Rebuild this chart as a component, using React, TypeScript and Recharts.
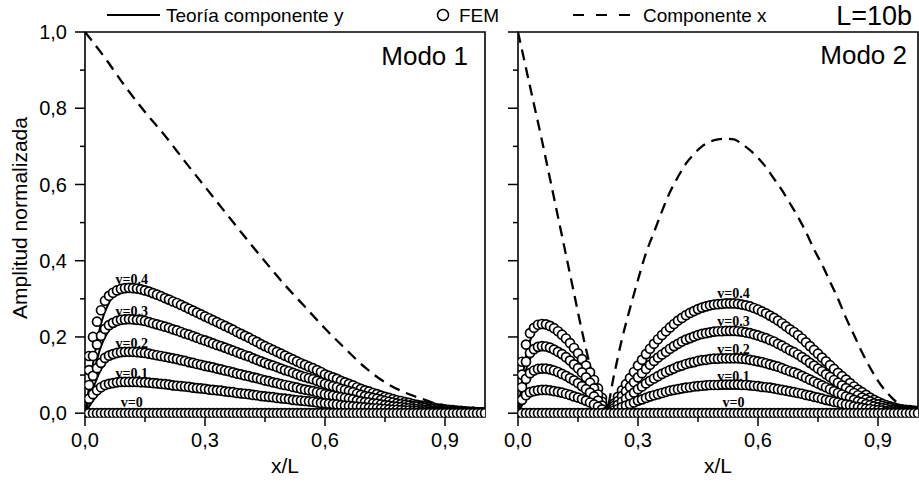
import React from "react";
import { ComposedChart, Line, Scatter, XAxis, YAxis, ReferenceArea, ReferenceDot } from "recharts";

// x/L sampling of the theory curves
const xGrid = [0, 0.02, 0.04, 0.06, 0.08, 0.1, 0.12, 0.14, 0.16, 0.18, 0.2, 0.22, 0.24, 0.26, 0.28, 0.3, 0.32, 0.34, 0.36, 0.38, 0.4, 0.42, 0.44, 0.46, 0.48, 0.5, 0.52, 0.54, 0.56, 0.58, 0.6, 0.62, 0.64, 0.66, 0.68, 0.7, 0.72, 0.74, 0.76, 0.78, 0.8, 0.82, 0.84, 0.86, 0.88, 0.9, 0.92, 0.94, 0.96, 0.98, 1];

// x/L of the FEM nodes
const xFem = [0, 0.01, 0.02, 0.03, 0.04, 0.05, 0.06, 0.07, 0.08, 0.09, 0.1, 0.11, 0.12, 0.13, 0.14, 0.15, 0.16, 0.17, 0.18, 0.19, 0.2, 0.21, 0.22, 0.23, 0.24, 0.25, 0.26, 0.27, 0.28, 0.29, 0.3, 0.31, 0.32, 0.33, 0.34, 0.35, 0.36, 0.37, 0.38, 0.39, 0.4, 0.41, 0.42, 0.43, 0.44, 0.45, 0.46, 0.47, 0.48, 0.49, 0.5, 0.51, 0.52, 0.53, 0.54, 0.55, 0.56, 0.57, 0.58, 0.59, 0.6, 0.61, 0.62, 0.63, 0.64, 0.65, 0.66, 0.67, 0.68, 0.69, 0.7, 0.71, 0.72, 0.73, 0.74, 0.75, 0.76, 0.77, 0.78, 0.79, 0.8, 0.81, 0.82, 0.83, 0.84, 0.85, 0.86, 0.87, 0.88, 0.89, 0.9, 0.91, 0.92, 0.93, 0.94, 0.95, 0.96, 0.97, 0.98, 0.99, 1];

// Modo 1 - teoría componente y
const m1Nu04 = [0, 0.13, 0.235, 0.29, 0.317, 0.327, 0.328, 0.325, 0.319, 0.311, 0.302, 0.293, 0.284, 0.274, 0.264, 0.254, 0.244, 0.234, 0.224, 0.213, 0.203, 0.192, 0.181, 0.171, 0.161, 0.151, 0.141, 0.131, 0.122, 0.113, 0.102, 0.094, 0.085, 0.077, 0.068, 0.06, 0.053, 0.046, 0.04, 0.034, 0.029, 0.024, 0.02, 0.016, 0.013, 0.01, 0.008, 0.006, 0.004, 0.003, 0.002];
const m1Nu03 = [0, 0.098, 0.176, 0.218, 0.238, 0.245, 0.246, 0.244, 0.239, 0.233, 0.227, 0.22, 0.213, 0.206, 0.198, 0.191, 0.183, 0.176, 0.168, 0.16, 0.152, 0.144, 0.136, 0.128, 0.121, 0.113, 0.106, 0.098, 0.092, 0.085, 0.077, 0.071, 0.064, 0.058, 0.051, 0.045, 0.04, 0.035, 0.03, 0.026, 0.022, 0.018, 0.015, 0.012, 0.01, 0.008, 0.006, 0.005, 0.003, 0.002, 0.002];
const m1Nu02 = [0, 0.064, 0.115, 0.142, 0.155, 0.16, 0.161, 0.159, 0.156, 0.152, 0.148, 0.144, 0.139, 0.134, 0.129, 0.124, 0.12, 0.115, 0.11, 0.104, 0.099, 0.094, 0.089, 0.084, 0.079, 0.074, 0.069, 0.064, 0.06, 0.055, 0.05, 0.046, 0.042, 0.038, 0.033, 0.029, 0.026, 0.023, 0.02, 0.017, 0.014, 0.012, 0.01, 0.008, 0.006, 0.005, 0.004, 0.003, 0.002, 0.001, 0.001];
const m1Nu01 = [0, 0.033, 0.059, 0.073, 0.079, 0.082, 0.082, 0.081, 0.08, 0.078, 0.076, 0.073, 0.071, 0.069, 0.066, 0.064, 0.061, 0.059, 0.056, 0.053, 0.051, 0.048, 0.045, 0.043, 0.04, 0.038, 0.035, 0.033, 0.031, 0.028, 0.026, 0.024, 0.021, 0.019, 0.017, 0.015, 0.013, 0.012, 0.01, 0.009, 0.007, 0.006, 0.005, 0.004, 0.003, 0.003, 0.002, 0.002, 0.001, 0.001, 0.001];
const nu0 = [0, 0, 0, 0, 0, 0, 0, 0, 0, 0, 0, 0, 0, 0, 0, 0, 0, 0, 0, 0, 0, 0, 0, 0, 0, 0, 0, 0, 0, 0, 0, 0, 0, 0, 0, 0, 0, 0, 0, 0, 0, 0, 0, 0, 0, 0, 0, 0, 0, 0, 0];

// Modo 1 - FEM
const m1Fem04 = [0, 0.15, 0.2, 0.24, 0.27, 0.295, 0.308, 0.316, 0.322, 0.326, 0.328, 0.329, 0.328, 0.327, 0.325, 0.322, 0.319, 0.315, 0.311, 0.307, 0.302, 0.298, 0.293, 0.289, 0.284, 0.279, 0.274, 0.269, 0.264, 0.259, 0.254, 0.249, 0.244, 0.239, 0.234, 0.229, 0.224, 0.219, 0.213, 0.208, 0.203, 0.198, 0.192, 0.187, 0.181, 0.176, 0.171, 0.166, 0.161, 0.156, 0.151, 0.146, 0.141, 0.136, 0.131, 0.127, 0.122, 0.118, 0.113, 0.108, 0.102, 0.098, 0.094, 0.09, 0.085, 0.081, 0.077, 0.073, 0.068, 0.064, 0.06, 0.057, 0.053, 0.05, 0.046, 0.043, 0.04, 0.037, 0.034, 0.032, 0.029, 0.027, 0.024, 0.022, 0.02, 0.018, 0.016, 0.015, 0.013, 0.012, 0.01, 0.009, 0.008, 0.007, 0.006, 0.005, 0.004, 0.004, 0.003, 0.002, 0.002];
const m1Fem03 = [0, 0.113, 0.15, 0.18, 0.203, 0.221, 0.231, 0.237, 0.242, 0.245, 0.246, 0.247, 0.246, 0.245, 0.244, 0.242, 0.239, 0.236, 0.233, 0.23, 0.227, 0.224, 0.22, 0.217, 0.213, 0.209, 0.206, 0.202, 0.198, 0.194, 0.191, 0.187, 0.183, 0.179, 0.176, 0.172, 0.168, 0.164, 0.16, 0.156, 0.152, 0.149, 0.144, 0.14, 0.136, 0.132, 0.128, 0.125, 0.121, 0.117, 0.113, 0.11, 0.106, 0.102, 0.098, 0.095, 0.092, 0.089, 0.085, 0.081, 0.077, 0.074, 0.071, 0.068, 0.064, 0.061, 0.058, 0.055, 0.051, 0.048, 0.045, 0.043, 0.04, 0.038, 0.035, 0.032, 0.03, 0.028, 0.026, 0.024, 0.022, 0.02, 0.018, 0.017, 0.015, 0.014, 0.012, 0.011, 0.01, 0.009, 0.008, 0.007, 0.006, 0.005, 0.005, 0.004, 0.003, 0.003, 0.002, 0.002, 0.002];
const m1Fem02 = [0, 0.074, 0.098, 0.118, 0.132, 0.145, 0.151, 0.155, 0.158, 0.16, 0.161, 0.161, 0.161, 0.16, 0.159, 0.158, 0.156, 0.154, 0.152, 0.15, 0.148, 0.146, 0.144, 0.142, 0.139, 0.137, 0.134, 0.132, 0.129, 0.127, 0.124, 0.122, 0.12, 0.117, 0.115, 0.112, 0.11, 0.107, 0.104, 0.102, 0.099, 0.097, 0.094, 0.092, 0.089, 0.086, 0.084, 0.081, 0.079, 0.076, 0.074, 0.072, 0.069, 0.067, 0.064, 0.062, 0.06, 0.058, 0.055, 0.053, 0.05, 0.048, 0.046, 0.044, 0.042, 0.04, 0.038, 0.036, 0.033, 0.031, 0.029, 0.028, 0.026, 0.025, 0.023, 0.021, 0.02, 0.018, 0.017, 0.016, 0.014, 0.013, 0.012, 0.011, 0.01, 0.009, 0.008, 0.007, 0.006, 0.006, 0.005, 0.004, 0.004, 0.003, 0.003, 0.002, 0.002, 0.002, 0.001, 0.001, 0.001];
const m1Fem01 = [0, 0.038, 0.05, 0.06, 0.068, 0.074, 0.077, 0.079, 0.081, 0.082, 0.082, 0.082, 0.082, 0.082, 0.081, 0.081, 0.08, 0.079, 0.078, 0.077, 0.076, 0.075, 0.073, 0.072, 0.071, 0.07, 0.069, 0.067, 0.066, 0.065, 0.064, 0.062, 0.061, 0.06, 0.059, 0.057, 0.056, 0.055, 0.053, 0.052, 0.051, 0.05, 0.048, 0.047, 0.045, 0.044, 0.043, 0.042, 0.04, 0.039, 0.038, 0.037, 0.035, 0.034, 0.033, 0.032, 0.031, 0.03, 0.028, 0.027, 0.026, 0.025, 0.024, 0.023, 0.021, 0.02, 0.019, 0.018, 0.017, 0.016, 0.015, 0.014, 0.013, 0.013, 0.012, 0.011, 0.01, 0.009, 0.009, 0.008, 0.007, 0.007, 0.006, 0.006, 0.005, 0.005, 0.004, 0.004, 0.003, 0.003, 0.003, 0.002, 0.002, 0.002, 0.002, 0.001, 0.001, 0.001, 0.001, 0.001, 0.001];
const femNu0 = [0, 0, 0, 0, 0, 0, 0, 0, 0, 0, 0, 0, 0, 0, 0, 0, 0, 0, 0, 0, 0, 0, 0, 0, 0, 0, 0, 0, 0, 0, 0, 0, 0, 0, 0, 0, 0, 0, 0, 0, 0, 0, 0, 0, 0, 0, 0, 0, 0, 0, 0, 0, 0, 0, 0, 0, 0, 0, 0, 0, 0, 0, 0, 0, 0, 0, 0, 0, 0, 0, 0, 0, 0, 0, 0, 0, 0, 0, 0, 0, 0, 0, 0, 0, 0, 0, 0, 0, 0, 0, 0, 0, 0, 0, 0, 0, 0, 0, 0, 0, 0];

// Modo 1 - componente x
const m1DashX = [0, 0.05, 0.1, 0.15, 0.2, 0.25, 0.3, 0.35, 0.4, 0.45, 0.5, 0.55, 0.6, 0.65, 0.7, 0.75, 0.8, 0.85, 0.9, 0.95, 1];
const m1Dash = [1.0, 0.932, 0.858, 0.79, 0.728, 0.66, 0.594, 0.528, 0.462, 0.398, 0.336, 0.279, 0.222, 0.17, 0.12, 0.081, 0.054, 0.035, 0.016, 0.005, 0];

// Modo 2 - teoría componente y
const m2Nu04 = [0, 0.15, 0.212, 0.228, 0.225, 0.21, 0.19, 0.165, 0.135, 0.098, 0.055, 0.005, 0.025, 0.06, 0.092, 0.125, 0.155, 0.182, 0.205, 0.225, 0.243, 0.257, 0.268, 0.277, 0.283, 0.286, 0.288, 0.288, 0.285, 0.28, 0.272, 0.262, 0.25, 0.236, 0.22, 0.205, 0.186, 0.166, 0.146, 0.126, 0.106, 0.088, 0.07, 0.055, 0.041, 0.03, 0.021, 0.015, 0.01, 0.008, 0.006];
const m2Nu03 = [0, 0.113, 0.159, 0.171, 0.169, 0.158, 0.143, 0.124, 0.101, 0.074, 0.041, 0.004, 0.019, 0.045, 0.069, 0.094, 0.116, 0.137, 0.154, 0.169, 0.182, 0.193, 0.201, 0.208, 0.212, 0.215, 0.216, 0.216, 0.214, 0.21, 0.204, 0.197, 0.188, 0.177, 0.165, 0.154, 0.14, 0.125, 0.11, 0.095, 0.08, 0.066, 0.053, 0.041, 0.031, 0.023, 0.016, 0.011, 0.008, 0.006, 0.005];
const m2Nu02 = [0, 0.075, 0.106, 0.114, 0.113, 0.105, 0.095, 0.083, 0.068, 0.049, 0.028, 0.003, 0.013, 0.03, 0.046, 0.063, 0.078, 0.091, 0.103, 0.113, 0.122, 0.129, 0.134, 0.139, 0.142, 0.143, 0.144, 0.144, 0.143, 0.14, 0.136, 0.131, 0.125, 0.118, 0.11, 0.103, 0.093, 0.083, 0.073, 0.063, 0.053, 0.044, 0.035, 0.028, 0.021, 0.015, 0.011, 0.008, 0.005, 0.004, 0.003];
const m2Nu01 = [0, 0.039, 0.055, 0.059, 0.059, 0.055, 0.049, 0.043, 0.035, 0.025, 0.014, 0.001, 0.007, 0.016, 0.024, 0.033, 0.04, 0.047, 0.053, 0.059, 0.063, 0.067, 0.07, 0.072, 0.074, 0.074, 0.075, 0.075, 0.074, 0.073, 0.071, 0.068, 0.065, 0.061, 0.057, 0.053, 0.048, 0.043, 0.038, 0.033, 0.028, 0.023, 0.018, 0.014, 0.011, 0.008, 0.005, 0.004, 0.003, 0.002, 0.002];

// Modo 2 - FEM
const m2Fem04 = [0, 0.135, 0.18, 0.21, 0.224, 0.232, 0.234, 0.233, 0.229, 0.223, 0.215, 0.206, 0.196, 0.184, 0.171, 0.157, 0.142, 0.125, 0.107, 0.087, 0.065, 0.04, 0.012, 0.008, 0.025, 0.043, 0.06, 0.076, 0.092, 0.108, 0.125, 0.14, 0.155, 0.169, 0.182, 0.194, 0.205, 0.215, 0.225, 0.234, 0.243, 0.25, 0.257, 0.263, 0.268, 0.273, 0.277, 0.28, 0.283, 0.285, 0.286, 0.287, 0.288, 0.288, 0.288, 0.287, 0.285, 0.283, 0.28, 0.276, 0.272, 0.267, 0.262, 0.256, 0.25, 0.243, 0.236, 0.228, 0.22, 0.213, 0.205, 0.196, 0.186, 0.176, 0.166, 0.156, 0.146, 0.136, 0.126, 0.116, 0.106, 0.097, 0.088, 0.079, 0.07, 0.062, 0.055, 0.048, 0.041, 0.035, 0.03, 0.025, 0.021, 0.018, 0.015, 0.012, 0.01, 0.009, 0.008, 0.007, 0.006];
const m2Fem03 = [0, 0.101, 0.135, 0.158, 0.168, 0.174, 0.176, 0.175, 0.172, 0.167, 0.161, 0.155, 0.147, 0.138, 0.128, 0.118, 0.107, 0.094, 0.08, 0.065, 0.049, 0.03, 0.009, 0.006, 0.019, 0.032, 0.045, 0.057, 0.069, 0.081, 0.094, 0.105, 0.116, 0.127, 0.137, 0.146, 0.154, 0.161, 0.169, 0.176, 0.182, 0.188, 0.193, 0.197, 0.201, 0.205, 0.208, 0.21, 0.212, 0.214, 0.215, 0.215, 0.216, 0.216, 0.216, 0.215, 0.214, 0.212, 0.21, 0.207, 0.204, 0.2, 0.197, 0.192, 0.188, 0.182, 0.177, 0.171, 0.165, 0.16, 0.154, 0.147, 0.14, 0.132, 0.125, 0.117, 0.11, 0.102, 0.095, 0.087, 0.08, 0.073, 0.066, 0.059, 0.053, 0.047, 0.041, 0.036, 0.031, 0.026, 0.023, 0.019, 0.016, 0.014, 0.011, 0.009, 0.008, 0.007, 0.006, 0.005, 0.005];
const m2Fem02 = [0, 0.068, 0.09, 0.105, 0.112, 0.116, 0.117, 0.117, 0.115, 0.112, 0.108, 0.103, 0.098, 0.092, 0.086, 0.079, 0.071, 0.063, 0.054, 0.044, 0.033, 0.02, 0.006, 0.004, 0.013, 0.022, 0.03, 0.038, 0.046, 0.054, 0.063, 0.07, 0.078, 0.085, 0.091, 0.097, 0.103, 0.108, 0.113, 0.117, 0.122, 0.125, 0.129, 0.132, 0.134, 0.137, 0.139, 0.14, 0.142, 0.143, 0.143, 0.144, 0.144, 0.144, 0.144, 0.144, 0.143, 0.142, 0.14, 0.138, 0.136, 0.134, 0.131, 0.128, 0.125, 0.122, 0.118, 0.114, 0.11, 0.107, 0.103, 0.098, 0.093, 0.088, 0.083, 0.078, 0.073, 0.068, 0.063, 0.058, 0.053, 0.049, 0.044, 0.04, 0.035, 0.031, 0.028, 0.024, 0.021, 0.018, 0.015, 0.013, 0.011, 0.009, 0.008, 0.006, 0.005, 0.005, 0.004, 0.004, 0.003];
const m2Fem01 = [0, 0.035, 0.047, 0.055, 0.058, 0.06, 0.061, 0.061, 0.06, 0.058, 0.056, 0.054, 0.051, 0.048, 0.044, 0.041, 0.037, 0.033, 0.028, 0.023, 0.017, 0.01, 0.003, 0.002, 0.007, 0.011, 0.016, 0.02, 0.024, 0.028, 0.033, 0.036, 0.04, 0.044, 0.047, 0.05, 0.053, 0.056, 0.059, 0.061, 0.063, 0.065, 0.067, 0.068, 0.07, 0.071, 0.072, 0.073, 0.074, 0.074, 0.074, 0.075, 0.075, 0.075, 0.075, 0.075, 0.074, 0.074, 0.073, 0.072, 0.071, 0.069, 0.068, 0.067, 0.065, 0.063, 0.061, 0.059, 0.057, 0.055, 0.053, 0.051, 0.048, 0.046, 0.043, 0.041, 0.038, 0.035, 0.033, 0.03, 0.028, 0.025, 0.023, 0.021, 0.018, 0.016, 0.014, 0.012, 0.011, 0.009, 0.008, 0.007, 0.005, 0.005, 0.004, 0.003, 0.003, 0.002, 0.002, 0.002, 0.002];

// Modo 2 - componente x
const m2Dash = [1.0, 0.905, 0.81, 0.715, 0.615, 0.515, 0.415, 0.315, 0.215, 0.125, 0.05, 0.008, 0.1, 0.195, 0.275, 0.35, 0.42, 0.475, 0.53, 0.58, 0.62, 0.655, 0.68, 0.7, 0.712, 0.718, 0.72, 0.718, 0.706, 0.69, 0.67, 0.645, 0.615, 0.585, 0.55, 0.515, 0.475, 0.43, 0.39, 0.345, 0.3, 0.25, 0.205, 0.16, 0.12, 0.085, 0.057, 0.035, 0.02, 0.008, 0.003];

// curve labels
const nuLabels = ["v=0.4", "v=0.3", "v=0.2", "v=0.1", "v=0"];
const m1LabelX = 0.117;
const m1LabelY = [0.352, 0.268, 0.185, 0.106, 0.028];
const m2LabelX = 0.539;
const m2LabelY = [0.316, 0.241, 0.168, 0.097, 0.028];

// ticks
const xTicks = [0, 0.15, 0.3, 0.45, 0.6, 0.75, 0.9];
const xTickLabels = ["0,0", "", "0,3", "", "0,6", "", "0,9"];
const yTicks = [0, 0.1, 0.2, 0.3, 0.4, 0.5, 0.6, 0.7, 0.8, 0.9, 1.0];
const yTickLabels = ["0,0", "", "0,2", "", "0,4", "", "0,6", "", "0,8", "", "1,0"];

const SANS = "'Liberation Sans', Arial, sans-serif";
const SERIF = "'Liberation Serif', 'Times New Roman', serif";

const toPts = (xs: number[], ys: number[]) => xs.map((x, i) => ({ x, y: ys[i] }));

function FemCircle(props: any) {
  const { cx, cy } = props;
  if (cx == null || cy == null) return null;
  return <circle cx={cx} cy={cy} r={4.5} fill="#fff" stroke="#000" strokeWidth={1.7} />;
}

function XTick(props: any) {
  const { x, y, payload } = props;
  const i = xTicks.findIndex((t) => Math.abs(t - payload.value) < 1e-6);
  const lab = xTickLabels[i] || "";
  const major = lab !== "";
  return (
    <g>
      <line x1={x} x2={x} y1={y} y2={y + (major ? 9 : 5)} stroke="#000" strokeWidth={1.5} />
      {major && (
        <text x={x} y={y + 30} textAnchor="middle" fontSize={20} fontFamily={SANS} fill="#000">
          {lab}
        </text>
      )}
    </g>
  );
}

function makeYTick(showLabels: boolean) {
  return function YTick(props: any) {
    const { x, y, payload } = props;
    const i = yTicks.findIndex((t) => Math.abs(t - payload.value) < 1e-6);
    const lab = yTickLabels[i] || "";
    const major = lab !== "";
    return (
      <g>
        <line x1={x - (major ? 10 : 5)} x2={x} y1={y} y2={y} stroke="#000" strokeWidth={1.5} />
        {major && showLabels && (
          <text x={x - 18} y={y} dy="0.36em" textAnchor="end" fontSize={20} fontFamily={SANS} fill="#000">
            {lab}
          </text>
        )}
      </g>
    );
  };
}

type PanelProps = {
  theory: number[][];
  fem: number[][];
  dashX: number[];
  dashY: number[];
  labelX: number;
  labelY: number[];
  width: number;
  yAxisWidth: number;
  marginRight: number;
  showYLabels: boolean;
};

function Panel(p: PanelProps) {
  const femPts = p.fem.flatMap((ys) => toPts(xFem, ys));
  return (
    <ComposedChart width={p.width} height={484} margin={{ top: 32, right: p.marginRight, bottom: 0, left: 0 }}>
      <XAxis
        dataKey="x"
        type="number"
        domain={[0, 1]}
        ticks={xTicks}
        tick={<XTick />}
        tickSize={0}
        tickMargin={0}
        tickLine={false}
        axisLine={false}
        height={67}
        allowDataOverflow
      />
      <YAxis
        type="number"
        domain={[-0.01, 1]}
        ticks={yTicks}
        tick={makeYTick(p.showYLabels)}
        tickSize={0}
        tickMargin={0}
        tickLine={false}
        axisLine={false}
        width={p.yAxisWidth}
        allowDataOverflow
      />
      <ReferenceArea x1={0} x2={1} y1={-0.01} y2={1} fill="none" stroke="#000" strokeWidth={1.6} />
      {p.theory.map((ys, i) => (
        <Line
          key={"t" + i}
          data={toPts(xGrid, ys)}
          dataKey="y"
          type="monotone"
          stroke="#000"
          strokeWidth={2}
          dot={false}
          isAnimationActive={false}
        />
      ))}
      <Scatter data={femPts} dataKey="y" shape={FemCircle} isAnimationActive={false} />
      <Line
        data={toPts(p.dashX, p.dashY)}
        dataKey="y"
        type="monotone"
        stroke="#000"
        strokeWidth={2.3}
        strokeDasharray="11 7"
        dot={false}
        isAnimationActive={false}
      />
      {p.labelY.map((ly, i) => (
        <ReferenceDot
          key={"l" + i}
          x={p.labelX}
          y={ly}
          r={0}
          fill="none"
          stroke="none"
          label={{ value: nuLabels[i], position: "center", fontSize: 14, fontWeight: "bold", fontFamily: SERIF, fill: "#000" }}
        />
      ))}
    </ComposedChart>
  );
}

export default function App() {
  return (
    <div style={{ position: "absolute", left: 0, top: 0, width: 919, height: 484, background: "#fff" }}>
      <div style={{ position: "absolute", left: 0, top: 0 }}>
        <Panel
          theory={[m1Nu04, m1Nu03, m1Nu02, m1Nu01, nu0]}
          fem={[m1Fem04, m1Fem03, m1Fem02, m1Fem01, femNu0]}
          dashX={m1DashX}
          dashY={m1Dash}
          labelX={m1LabelX}
          labelY={m1LabelY}
          width={500}
          yAxisWidth={85}
          marginRight={15}
          showYLabels
        />
      </div>
      <div style={{ position: "absolute", left: 500, top: 0 }}>
        <Panel
          theory={[m2Nu04, m2Nu03, m2Nu02, m2Nu01, nu0]}
          fem={[m2Fem04, m2Fem03, m2Fem02, m2Fem01, femNu0]}
          dashX={xGrid}
          dashY={m2Dash}
          labelX={m2LabelX}
          labelY={m2LabelY}
          width={419}
          yAxisWidth={18}
          marginRight={1}
          showYLabels={false}
        />
      </div>
      <svg width={919} height={484} style={{ position: "absolute", left: 0, top: 0, pointerEvents: "none" }}>
        <g fontFamily={SANS} fill="#000">
          <line x1={107} x2={160} y1={15} y2={15} stroke="#000" strokeWidth={2} />
          <text x={166} y={22} fontSize={19}>Teoría componente y</text>
          <circle cx={443} cy={15} r={5.5} fill="#fff" stroke="#000" strokeWidth={1.5} />
          <text x={459} y={22} fontSize={19}>FEM</text>
          <line x1={573} x2={631} y1={15} y2={15} stroke="#000" strokeWidth={2} strokeDasharray="11 12" />
          <text x={643} y={22} fontSize={19}>Componente x</text>
          <text x={912} y={25} fontSize={27} textAnchor="end">L=10b</text>
          <text x={468} y={65} fontSize={26} textAnchor="end">Modo 1</text>
          <text x={907} y={64} fontSize={26} textAnchor="end">Modo 2</text>
          <text x={285} y={473} fontSize={21} textAnchor="middle">x/L</text>
          <text x={718} y={473} fontSize={21} textAnchor="middle">x/L</text>
          <text x={27} y={218} fontSize={21} textAnchor="middle" transform="rotate(-90 27 218)">
            Amplitud normalizada
          </text>
        </g>
      </svg>
    </div>
  );
}
